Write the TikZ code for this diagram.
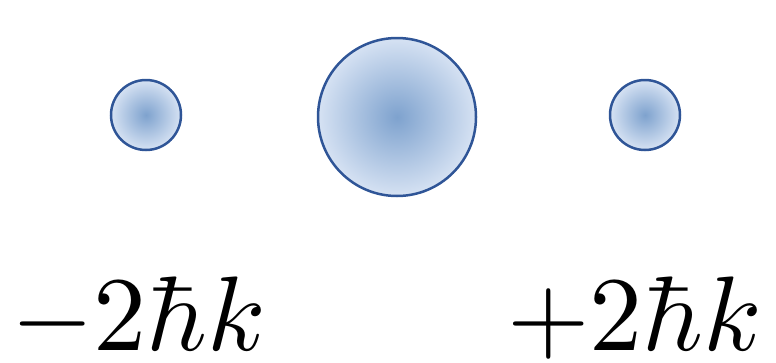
\documentclass[tikz,border=0pt]{standalone}
\begin{document}
\begin{tikzpicture}[x=1pt,y=-1pt,
  atom/.style={circle,draw=atomedge,line width=2.5pt,inner sep=0pt,
    inner color=atomin,outer color=atomout},
  lbl/.style={inner sep=0pt,anchor=base,scale=10.6}]
\definecolor{atomedge}{HTML}{2F5597}
\definecolor{atomin}{HTML}{7EA2CE}
\definecolor{atomout}{HTML}{D6E2F3}
\useasboundingbox (0,0) rectangle (776,362);
\node[atom,minimum size=70pt] (left) at (146,115) {};
\node[atom,minimum size=158pt] (mid) at (397,117) {};
\node[atom,minimum size=70pt] (right) at (645,115) {};
\node[lbl] (lm) at (139,350) {$-2\hbar k$};
\node[lbl] (lp) at (635,350) {$+2\hbar k$};
\end{tikzpicture}
\end{document}
